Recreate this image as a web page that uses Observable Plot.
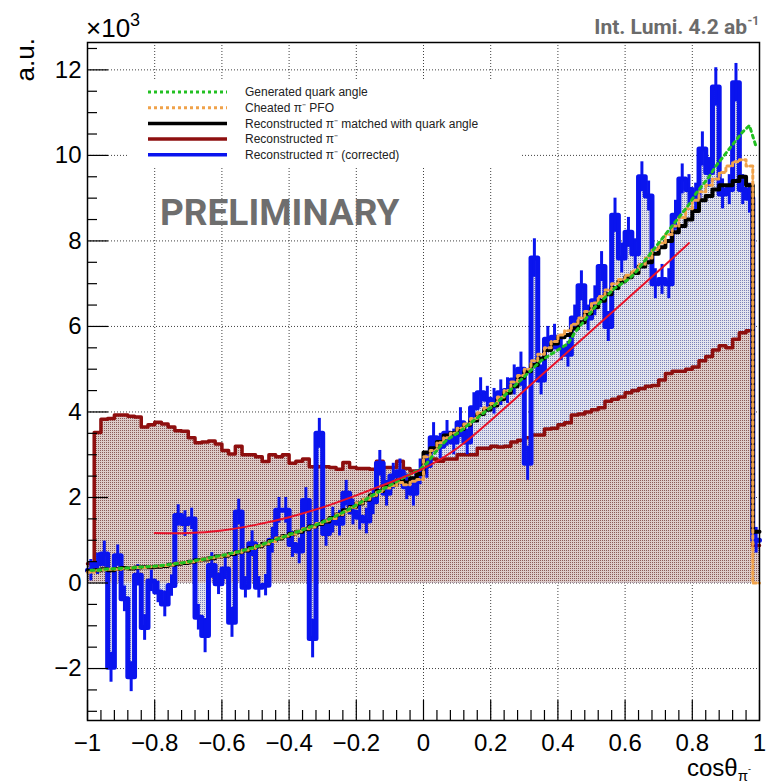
<!DOCTYPE html>
<html>
<head>
<meta charset="utf-8">
<script src="https://cdn.jsdelivr.net/npm/d3@7"></script>
<script src="https://cdn.jsdelivr.net/npm/@observablehq/plot@0.6"></script>
<style>
  body { margin: 0; background: #fff; }
  #chart { width: 769px; height: 783px; }
</style>
</head>
<body>
<div id="chart"></div>
<script>
// 100 bins of cos(theta) on [-1, 1]; values in units of 10^3 entries
const nBins = 100;
const xRange = [-1, 1];

// Reconstructed pi- (dark red, filled)
const recoPi = [
  0.45, 3.52, 3.83, 3.85, 3.93, 3.93, 3.90, 3.88, 3.65, 3.70,
  3.76, 3.72, 3.65, 3.56, 3.55, 3.40, 3.28, 3.30, 3.32, 3.25,
  3.10, 3.02, 3.20, 3.00, 3.00, 2.95, 2.84, 3.00, 2.95, 3.00,
  2.80, 2.85, 2.90, 2.72, 2.72, 2.72, 2.70, 2.66, 2.82, 2.70,
  2.68, 2.68, 2.66, 2.85, 2.70, 2.70, 2.85, 2.68, 2.62, 2.62,
  2.85, 2.90, 2.85, 2.90, 2.90, 3.00, 3.00, 3.00, 3.15, 3.15,
  3.20, 3.18, 3.20, 3.30, 3.34, 3.40, 3.46, 3.46, 3.60, 3.62,
  3.70, 3.75, 3.93, 3.95, 4.00, 4.05, 4.10, 4.25, 4.30, 4.35,
  4.45, 4.50, 4.55, 4.60, 4.62, 4.75, 4.90, 4.95, 4.95, 5.00,
  5.05, 5.20, 5.30, 5.45, 5.55, 5.50, 5.70, 5.85, 5.90, 0.88
];

// Reconstructed pi- (corrected), blue
const recoPiCorrected = [
  0.30, 0.45, 0.68, -1.97, 0.64, -0.37, -2.19, 0.18, -1.04, 0.05,
  -0.21, -0.49, -0.06, 1.58, 1.39, 1.50, -0.80, -1.23, 0.41, -0.02,
  0.33, -0.92, 1.66, -0.10, 0.92, -0.10, -0.05, 1.00, 1.70, 1.70,
  0.90, 0.75, 1.93, -1.30, 3.50, 1.16, 1.47, 1.40, 2.10, 1.66,
  1.54, 1.45, 1.90, 2.80, 2.10, 2.50, 2.60, 2.25, 2.10, 2.60,
  2.75, 3.40, 3.20, 3.50, 3.30, 3.75, 3.30, 4.10, 4.45, 4.30,
  4.25, 4.45, 4.50, 4.75, 5.00, 2.80, 7.60, 4.75, 5.70, 5.75,
  5.50, 5.35, 6.20, 6.95, 6.20, 6.60, 7.40, 6.00, 8.60, 7.60,
  8.20, 7.70, 9.50, 9.05, 7.00, 7.10, 7.00, 8.60, 9.45, 9.20,
  9.00, 10.15, 9.60, 11.60, 9.10, 9.20, 11.70, 9.20, 9.00, 1.00
];

// Statistical uncertainty of the corrected distribution
const recoPiCorrectedErr = [
  0.25, 0.25, 0.30, 0.35, 0.25, 0.30, 0.35, 0.25, 0.30, 0.25,
  0.25, 0.30, 0.25, 0.25, 0.30, 0.25, 0.30, 0.40, 0.30, 0.25,
  0.25, 0.35, 0.30, 0.25, 0.30, 0.25, 0.25, 0.30, 0.30, 0.30,
  0.30, 0.30, 0.30, 0.45, 0.35, 0.30, 0.30, 0.30, 0.30, 0.30,
  0.30, 0.30, 0.30, 0.30, 0.30, 0.30, 0.30, 0.30, 0.30, 0.30,
  0.30, 0.35, 0.30, 0.30, 0.30, 0.35, 0.30, 0.35, 0.35, 0.30,
  0.30, 0.30, 0.30, 0.35, 0.40, 0.40, 0.45, 0.35, 0.30, 0.30,
  0.30, 0.30, 0.30, 0.35, 0.30, 0.35, 0.35, 0.35, 0.40, 0.35,
  0.35, 0.35, 0.35, 0.35, 0.35, 0.35, 0.35, 0.35, 0.35, 0.35,
  0.35, 0.40, 0.35, 0.45, 0.35, 0.35, 0.45, 0.35, 0.35, 0.30
];

// Reconstructed pi- matched with quark angle (black)
const recoMatched = [
  0.28, 0.30, 0.32, 0.30, 0.33, 0.35, 0.34, 0.36, 0.37, 0.37,
  0.38, 0.40, 0.43, 0.45, 0.47, 0.50, 0.53, 0.55, 0.58, 0.62,
  0.64, 0.68, 0.72, 0.76, 0.82, 0.86, 0.92, 0.98, 1.04, 1.10,
  1.15, 1.20, 1.26, 1.32, 1.38, 1.44, 1.52, 1.60, 1.70, 1.78,
  1.86, 1.95, 2.05, 2.15, 2.25, 2.30, 2.40, 2.35, 2.45, 2.55,
  3.05, 3.15, 3.30, 3.45, 3.50, 3.60, 3.70, 3.80, 3.95, 4.05,
  4.15, 4.30, 4.45, 4.60, 4.80, 4.95, 5.10, 5.25, 5.45, 5.60,
  5.75, 5.80, 5.95, 6.10, 6.30, 6.45, 6.60, 6.75, 6.90, 7.05,
  7.15, 7.25, 7.40, 7.50, 7.70, 7.85, 8.00, 8.20, 8.35, 8.50,
  8.70, 8.95, 9.05, 9.20, 9.30, 9.30, 9.40, 9.50, 9.30, 1.20
];

// Cheated pi- PFO (orange, dotted)
const cheatedPFO = [
  0.25, 0.30, 0.31, 0.32, 0.32, 0.34, 0.35, 0.36, 0.36, 0.38,
  0.39, 0.41, 0.42, 0.46, 0.48, 0.50, 0.52, 0.56, 0.59, 0.61,
  0.65, 0.69, 0.72, 0.77, 0.81, 0.87, 0.91, 0.97, 1.05, 1.10,
  1.14, 1.21, 1.27, 1.31, 1.39, 1.45, 1.51, 1.60, 1.68, 1.77,
  1.87, 1.96, 2.04, 2.14, 2.22, 2.28, 2.35, 2.30, 2.38, 2.42,
  2.95, 3.10, 3.28, 3.40, 3.50, 3.62, 3.72, 3.85, 3.98, 4.10,
  4.20, 4.35, 4.50, 4.70, 4.85, 5.00, 5.20, 5.35, 5.50, 5.65,
  5.80, 5.90, 6.05, 6.20, 6.35, 6.55, 6.70, 6.85, 7.00, 7.10,
  7.20, 7.30, 7.45, 7.60, 7.80, 7.95, 8.15, 8.35, 8.55, 8.75,
  8.95, 9.15, 9.30, 9.45, 9.60, 9.75, 9.85, 9.90, 9.75, 0.00
];

// Generated quark angle (green, dotted, drawn through bin centres)
const generatedQuark = [
  0.30, 0.30, 0.32, 0.33, 0.34, 0.35, 0.35, 0.37, 0.38, 0.39,
  0.40, 0.42, 0.44, 0.46, 0.48, 0.51, 0.54, 0.56, 0.60, 0.63,
  0.66, 0.70, 0.73, 0.78, 0.82, 0.87, 0.93, 0.99, 1.04, 1.10,
  1.16, 1.21, 1.27, 1.33, 1.39, 1.46, 1.53, 1.61, 1.69, 1.78,
  1.87, 1.96, 2.06, 2.15, 2.24, 2.33, 2.42, 2.50, 2.58, 2.66,
  2.80, 3.00, 3.20, 3.35, 3.45, 3.55, 3.68, 3.80, 3.92, 4.05,
  4.15, 4.30, 4.45, 4.60, 4.75, 4.90, 5.05, 5.20, 5.30, 5.40,
  5.50, 5.60, 5.85, 6.05, 6.25, 6.45, 6.60, 6.75, 6.90, 7.00,
  7.10, 7.25, 7.45, 7.65, 7.85, 8.05, 8.25, 8.45, 8.65, 8.85,
  9.10, 9.30, 9.50, 9.75, 9.95, 10.15, 10.35, 10.55, 10.70, 10.20
];

// Fit to the reconstructed distribution, sampled along cos(theta)
const fitCos = [-0.8, -0.7, -0.6, -0.5, -0.4, -0.3, -0.2, -0.1, 0.0, 0.1, 0.2, 0.3, 0.4, 0.5, 0.6, 0.7, 0.79];
const fitVal = [1.17, 1.17, 1.23, 1.36, 1.54, 1.77, 2.05, 2.35, 2.68, 3.15, 3.80, 4.50, 5.20, 5.90, 6.60, 7.30, 7.95];

// Axis ticks
const xMajor = [-1, -0.8, -0.6, -0.4, -0.2, 0, 0.2, 0.4, 0.6, 0.8, 1];
const yMajor = [-2, 0, 2, 4, 6, 8, 10, 12];

const legendItems = [
  {label: "Generated quark angle", color: "#22c022", dash: "3,3"},
  {label: "Cheated \u03c0\u207b PFO", color: "#f0a24a", dash: "3,3"},
  {label: "Reconstructed \u03c0\u207b matched with quark angle", color: "#000000", dash: null},
  {label: "Reconstructed \u03c0\u207b", color: "#8e0f0f", dash: null},
  {label: "Reconstructed \u03c0\u207b (corrected)", color: "#0a14ee", dash: null}
];

// ---- derived structures ----
const binW = (xRange[1] - xRange[0]) / nBins;
const edges = d3.range(nBins + 1).map(i => xRange[0] + binW * i);
const centers = d3.range(nBins).map(i => xRange[0] + binW * (i + 0.5));
const xMinor = d3.range(0, 51).map(i => -1 + 0.04 * i).filter(v => !xMajor.some(m => Math.abs(m - v) < 1e-9));
const yMinor = d3.range(-6, 26).map(i => i * 0.5).filter(v => v % 2 !== 0 && v > -3.2 && v < 12.64);

// step rows: one row per bin edge, last edge repeats the last bin value
const steps = vals => edges.map((x, i) => ({x, y: vals[Math.min(i, nBins - 1)]}));
const atCenters = vals => centers.map((x, i) => ({x, y: vals[i]}));
const errRows = centers.map((x, i) => ({x, lo: recoPiCorrected[i] - recoPiCorrectedErr[i], hi: recoPiCorrected[i] + recoPiCorrectedErr[i]}));
const fitRows = fitCos.map((x, i) => ({x, y: fitVal[i]}));

const fmt = d => {
  const s = String(Math.round(d * 10) / 10);
  return s.replace("-", "\u2212");
};

const W = 769, H = 783;
const mL = 87, mR = 10, mT = 42, mB = 63;
const innerW = W - mL - mR, innerH = H - mT - mB;

const plot = Plot.plot({
  width: W,
  height: H,
  marginLeft: mL,
  marginRight: mR,
  marginTop: mT,
  marginBottom: mB,
  style: {fontFamily: "'Liberation Sans', Arial, sans-serif", fontSize: "24px", background: "#fff", color: "#000"},
  x: {domain: xRange, ticks: xMajor, tickSize: 0, tickPadding: 13, tickFormat: fmt, label: null},
  y: {domain: [-3.215, 12.64], ticks: yMajor, tickSize: 0, tickPadding: 6, tickFormat: fmt, label: null},
  marks: [
    // dotted grid
    Plot.ruleX(xMajor.slice(1, -1), {x: d => d, stroke: "#000", strokeOpacity: 0.75, strokeDasharray: "1,2"}),
    Plot.ruleY(yMajor, {y: d => d, stroke: "#000", strokeOpacity: 0.75, strokeDasharray: "1,2"}),
    // filled histograms
    Plot.areaY(steps(recoPiCorrected), {x: "x", y1: 0, y2: "y", curve: "step-after", fill: "url(#blueDots)"}),
    Plot.areaY(steps(recoPi), {x: "x", y1: 0, y2: "y", curve: "step-after", fill: "url(#redDots)"}),
    // outlines
    Plot.line(steps(recoPi), {x: "x", y: "y", curve: "step-after", stroke: "#8e0f0f", strokeWidth: 3.5}),
    Plot.line(steps(recoPiCorrected), {x: "x", y: "y", curve: "step-after", stroke: "#0a14ee", strokeWidth: 5}),
    Plot.ruleX(errRows, {x: "x", y1: "lo", y2: "hi", stroke: "#0a14ee", strokeWidth: 3}),
    Plot.line(steps(recoMatched), {x: "x", y: "y", curve: "step-after", stroke: "#000", strokeWidth: 4}),
    Plot.line(steps(cheatedPFO), {x: "x", y: "y", curve: "step-after", stroke: "#f0a24a", strokeWidth: 3, strokeDasharray: "3,3"}),
    Plot.line(atCenters(generatedQuark), {x: "x", y: "y", stroke: "#22c022", strokeWidth: 3, strokeDasharray: "3,4"}),
    Plot.line(fitRows, {x: "x", y: "y", curve: "natural", stroke: "#e8132b", strokeWidth: 2}),
    // inward ticks
    Plot.tickX(xMajor, {x: d => d, insetTop: innerH - 20, stroke: "#000", strokeWidth: 1.2}),
    Plot.tickX(xMinor, {x: d => d, insetTop: innerH - 10, stroke: "#000", strokeWidth: 1.2}),
    Plot.tickY(yMajor, {y: d => d, insetRight: innerW - 21, stroke: "#000", strokeWidth: 1.2}),
    Plot.tickY(yMinor, {y: d => d, insetRight: innerW - 10, stroke: "#000", strokeWidth: 1.2}),
    Plot.frame({stroke: "#000", strokeWidth: 1.5})
  ]
});

const svg = d3.select(plot);

// dotted fill patterns (dots on a tinted ground)
const defs = svg.insert("defs", ":first-child");
const red = defs.append("pattern").attr("id", "redDots").attr("width", 2).attr("height", 2).attr("patternUnits", "userSpaceOnUse");
red.append("rect").attr("width", 2).attr("height", 2).attr("fill", "#dccbc9");
red.append("rect").attr("width", 1).attr("height", 1).attr("fill", "#8a5a58");
const blue = defs.append("pattern").attr("id", "blueDots").attr("width", 2).attr("height", 2).attr("patternUnits", "userSpaceOnUse");
blue.append("rect").attr("width", 2).attr("height", 2).attr("fill", "#e2e3ee");
blue.append("rect").attr("width", 1).attr("height", 1).attr("fill", "#7c80b8");

// legend
const lg = svg.append("g").attr("text-anchor", "start");
lg.append("rect").attr("x", 128).attr("y", 81).attr("width", 392).attr("height", 86).attr("fill", "#fff");
legendItems.forEach((d, i) => {
  const y = 92 + i * 15.7;
  lg.append("line").attr("x1", 148).attr("x2", 227).attr("y1", y).attr("y2", y)
    .attr("stroke", d.color).attr("stroke-width", d.dash ? 3 : 3.5)
    .attr("stroke-dasharray", d.dash);
  lg.append("text").attr("x", 245).attr("y", y + 4.2).attr("font-size", 12)
    .attr("font-family", "'Liberation Sans', Arial, sans-serif").attr("fill", "#222").text(d.label);
});

// titles and labels
const txt = svg.append("g").attr("font-family", "'Liberation Sans', Arial, sans-serif").attr("fill", "#000").attr("text-anchor", "start");
const exp = txt.append("text").attr("x", 86).attr("y", 37).attr("font-size", 26);
exp.append("tspan").text("\u00d710");
exp.append("tspan").attr("font-size", 18).attr("dy", -11).text("3");
txt.append("text").attr("transform", "translate(34,38) rotate(-90)").attr("text-anchor", "end")
  .attr("font-size", 26).text("a.u.");
const xt = txt.append("text").attr("x", 687).attr("y", 776).attr("font-size", 24);
xt.append("tspan").text("cos\u03b8");
xt.append("tspan").attr("font-size", 15).attr("dy", 5).text("\u03c0");
xt.append("tspan").attr("font-size", 9).attr("dy", -9).text("-");

const head = svg.append("g").attr("font-family", "Roboto, sans-serif").attr("font-weight", "bold").attr("fill", "#6b6b6b");
head.append("text").attr("x", 747).attr("y", 34).attr("text-anchor", "end").attr("font-size", 21)
  .text("Int. Lumi. 4.2 ab");
head.append("text").attr("x", 747.5).attr("y", 25).attr("text-anchor", "start").attr("font-size", 12).text("-1");
head.append("text").attr("x", 160).attr("y", 225).attr("text-anchor", "start").attr("font-size", 37)
  .attr("fill", "#6e6e6e").text("PRELIMINARY");

document.getElementById("chart").appendChild(plot);
</script>
</body>
</html>
